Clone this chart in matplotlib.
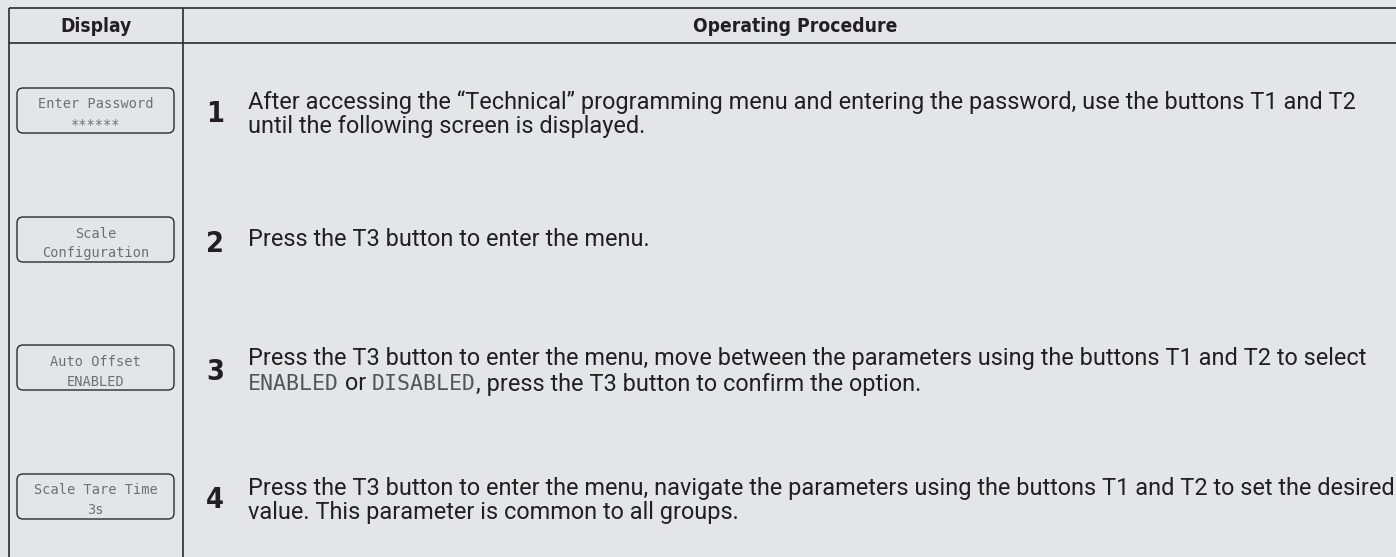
import matplotlib
matplotlib.use("Agg")
import matplotlib.pyplot as plt
from matplotlib import font_manager as fm
from matplotlib.font_manager import FontProperties
from matplotlib.patches import FancyBboxPatch
import re

# ---------------- data ----------------
header_labels = ["Display", "Operating Procedure"]
step_numbers = ["1", "2", "3", "4"]
display_line1 = ["Enter Password", "Scale", "Auto Offset", "Scale Tare Time"]
display_line2 = ["******", "Configuration", "ENABLED", "3s"]
procedure_lines = [
    ["After accessing the \u201cTechnical\u201d programming menu and entering the password, use the buttons T1 and T2",
     "until the following screen is displayed."],
    ["Press the T3 button to enter the menu."],
    ["Press the T3 button to enter the menu, move between the parameters using the buttons T1 and T2 to select",
     "[ENABLED] or [DISABLED], press the T3 button to confirm the option."],
    ["Press the T3 button to enter the menu, navigate the parameters using the buttons T1 and T2 to set the desired",
     "value. This parameter is common to all groups."],
]

# ---------------- style ----------------
W, H = 1396, 557
BG = "#e4e5e7"
LINE = "#2b2b2b"
TXT = "#231f20"
LCD_BOX = "#707070"
LCD_INL = "#555555"

fig = plt.figure(figsize=(W / 100, H / 100), dpi=100, facecolor=BG)
ax = fig.add_axes([0, 0, 1, 1])
ax.set_xlim(0, W)
ax.set_ylim(H, 0)
ax.axis("off")
ax.set_facecolor(BG)
fig.canvas.draw()
renderer = fig.canvas.get_renderer()


def find_condensed_bold():
    cands = []
    for f in fm.fontManager.ttflist:
        n = f.fname.lower()
        if ("condensed" in n or "narrow" in n) and ("bold" in n) and "oblique" not in n and "italic" not in n:
            cands.append(f.fname)
    pref = ["dejavusanscondensed-bold", "liberationsansnarrow-bold", "robotocondensed-bold", "opensans_condensed-bold"]
    for p in pref:
        for c in cands:
            if p in c.lower().replace(" ", ""):
                return FontProperties(fname=c)
    if cands:
        return FontProperties(fname=cands[0])
    return FontProperties(family="DejaVu Sans", weight="bold")


COND = find_condensed_bold()
MONO = FontProperties(family="DejaVu Sans Mono")


def text_width(s, fp, size):
    t = ax.text(0, 0, s, fontproperties=fp, fontsize=size)
    bb = t.get_window_extent(renderer)
    t.remove()
    return bb.width


def fit_size(s, fp, target):
    return 20 * target / text_width(s, fp, 20)


# reference widths of the three long lines (pixels)
long_lines = [procedure_lines[0][0], procedure_lines[2][0], procedure_lines[3][0]]
long_targets = [1135, 1128, 1138]

best = None
for fam in ["Liberation Sans", "Roboto", "Open Sans", "Lato", "Inter", "Noto Sans", "DejaVu Sans"]:
    fp = FontProperties(family=fam)
    sizes = [fit_size(s, fp, t) for s, t in zip(long_lines, long_targets)]
    spread = max(sizes) / min(sizes)
    if best is None or spread < best[0] - 0.005:
        best = (spread, fp, min(sizes))
BODY = best[1]
body_size = best[2]

head_size = fit_size(header_labels[1], COND, 204)
num_size = head_size * 1.5
lcd_box_size = fit_size("Enter Password", MONO, 115)
lcd_inl_size = fit_size("ENABLED", MONO, 91)
space_w = text_width("a a", BODY, body_size) - text_width("aa", BODY, body_size)

# ---------------- table grid ----------------
x_left, x_div = 9, 183
y_top, y_head = 8, 43
lw = 1.2
ax.plot([x_left, W], [y_top, y_top], color=LINE, lw=lw, solid_capstyle="butt")
ax.plot([x_left, W], [y_head, y_head], color=LINE, lw=lw, solid_capstyle="butt")
ax.plot([x_left, x_left], [y_top, H], color=LINE, lw=lw, solid_capstyle="butt")
ax.plot([x_div, x_div], [y_top, H], color=LINE, lw=lw, solid_capstyle="butt")

ax.text((x_left + x_div) / 2, 32, header_labels[0], fontproperties=COND, fontsize=head_size,
        color=TXT, ha="center", va="baseline")
ax.text(795, 32, header_labels[1], fontproperties=COND, fontsize=head_size,
        color=TXT, ha="center", va="baseline")

# ---------------- rows ----------------
box_tops = [88, 217, 345, 474]
box_h = 45
box_x0, box_x1 = 17, 174
num_x = 215
txt_x = 248

for i, top in enumerate(box_tops):
    c = top + box_h / 2
    box = FancyBboxPatch((box_x0, top), box_x1 - box_x0, box_h,
                         boxstyle="round,pad=0,rounding_size=6",
                         facecolor="none", edgecolor=LINE, lw=1.0)
    ax.add_patch(box)
    bx = (box_x0 + box_x1) / 2
    ax.text(bx, c - 2, display_line1[i], fontproperties=MONO, fontsize=lcd_box_size,
            color=LCD_BOX, ha="center", va="baseline")
    ax.text(bx, c + 18, display_line2[i], fontproperties=MONO, fontsize=lcd_box_size,
            color=LCD_BOX, ha="center", va="baseline")

    ax.text(num_x, c + 12, step_numbers[i], fontproperties=COND, fontsize=num_size,
            color=TXT, ha="center", va="baseline")

    lines = procedure_lines[i]
    if len(lines) == 1:
        baselines = [c + 6]
    else:
        baselines = [c - 2, c + 23]
    for line, yb in zip(lines, baselines):
        parts = re.split(r"(\[[^\]]*\])", line)
        x = txt_x
        for p in parts:
            if not p:
                continue
            if p.startswith("["):
                s = p[1:-1]
                t = ax.text(x, yb, s, fontproperties=MONO, fontsize=lcd_inl_size,
                            color=LCD_INL, ha="left", va="baseline")
                x = t.get_window_extent(renderer).x1
            else:
                lead = len(p) - len(p.lstrip(" "))
                trail = len(p) - len(p.rstrip(" "))
                x += lead * space_w
                s = p.strip(" ")
                if s:
                    t = ax.text(x, yb, s, fontproperties=BODY, fontsize=body_size,
                                color=TXT, ha="left", va="baseline")
                    x = t.get_window_extent(renderer).x1
                x += trail * space_w

fig.savefig("out.png", dpi=100, facecolor=BG)
